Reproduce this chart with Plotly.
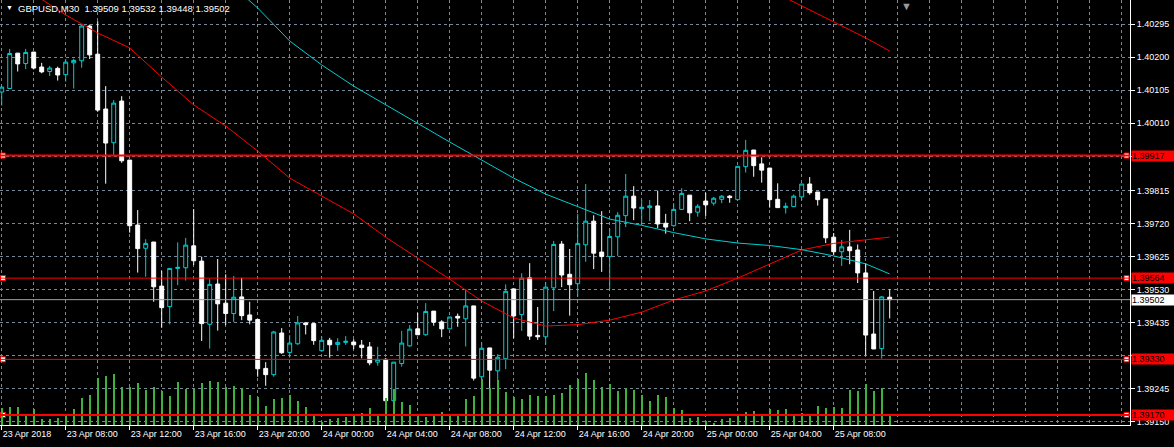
import plotly.graph_objects as go

# ---------------- data (GBPUSD M30) ----------------
time_labels = ["23 Apr 2018", "23 Apr 08:00", "23 Apr 12:00", "23 Apr 16:00", "23 Apr 20:00",
               "24 Apr 00:00", "24 Apr 04:00", "24 Apr 08:00", "24 Apr 12:00", "24 Apr 16:00",
               "24 Apr 20:00", "25 Apr 00:00", "25 Apr 04:00", "25 Apr 08:00"]
label_bars = [0, 8, 16, 24, 32, 40, 48, 56, 64, 72, 80, 88, 96, 104]

open_ = [1.40100, 1.40110, 1.40212, 1.40182, 1.40215, 1.40172, 1.40159, 1.40168, 1.40150, 1.40184,
         1.40190, 1.40290, 1.40209, 1.40051, 1.39954, 1.40074, 1.39904, 1.39717, 1.39650, 1.39668,
         1.39541, 1.39482, 1.39592, 1.39594, 1.39657, 1.39613, 1.39431, 1.39547, 1.39492, 1.39462,
         1.39510, 1.39458, 1.39445, 1.39304, 1.39286, 1.39406, 1.39350, 1.39375, 1.39435, 1.39433,
         1.39355, 1.39385, 1.39373, 1.39379, 1.39380, 1.39371, 1.39366, 1.39322, 1.39330, 1.39211,
         1.39318, 1.39369, 1.39418, 1.39401, 1.39469, 1.39438, 1.39418, 1.39454, 1.39447, 1.39484,
         1.39280, 1.39363, 1.39297, 1.39332, 1.39533, 1.39459, 1.39565, 1.39399, 1.39395, 1.39536,
         1.39662, 1.39575, 1.39548, 1.39660, 1.39728, 1.39639, 1.39626, 1.39683, 1.39744, 1.39800,
         1.39764, 1.39767, 1.39772, 1.39722, 1.39715, 1.39762, 1.39803, 1.39754, 1.39786, 1.39780,
         1.39791, 1.39800, 1.39790, 1.39885, 1.39933, 1.39893, 1.39881, 1.39791, 1.39767, 1.39770,
         1.39798, 1.39835, 1.39812, 1.39792, 1.39682, 1.39640, 1.39654, 1.39645, 1.39579, 1.39403,
         1.39361, 1.39509]
high = [1.40117, 1.40224, 1.40212, 1.40224, 1.40215, 1.40184, 1.40175, 1.40173, 1.40195, 1.40196,
        1.40295, 1.40294, 1.40304, 1.40117, 1.40077, 1.40088, 1.39904, 1.39760, 1.39676, 1.39668,
        1.39585, 1.39593, 1.39667, 1.39680, 1.39763, 1.39626, 1.39561, 1.39619, 1.39575, 1.39570,
        1.39565, 1.39496, 1.39445, 1.39322, 1.39412, 1.39420, 1.39400, 1.39455, 1.39437, 1.39435,
        1.39397, 1.39392, 1.39391, 1.39397, 1.39388, 1.39386, 1.39380, 1.39366, 1.39334, 1.39322,
        1.39412, 1.39429, 1.39464, 1.39492, 1.39469, 1.39443, 1.39452, 1.39462, 1.39532, 1.39484,
        1.39379, 1.39363, 1.39345, 1.39546, 1.39533, 1.39578, 1.39607, 1.39481, 1.39552, 1.39671,
        1.39671, 1.39648, 1.39749, 1.39835, 1.39745, 1.39757, 1.39706, 1.39754, 1.39864, 1.39829,
        1.39789, 1.39789, 1.39816, 1.39749, 1.39780, 1.39823, 1.39803, 1.39777, 1.39810, 1.39798,
        1.39803, 1.39803, 1.39886, 1.39962, 1.39933, 1.39912, 1.39881, 1.39837, 1.39781, 1.39805,
        1.39835, 1.39855, 1.39812, 1.39792, 1.39694, 1.39674, 1.39703, 1.39661, 1.39607, 1.39527,
        1.39512, 1.39532]
low = [1.40061, 1.40109, 1.40159, 1.40166, 1.40165, 1.40154, 1.40146, 1.40133, 1.40130, 1.40110,
       1.40170, 1.40195, 1.40043, 1.39836, 1.39919, 1.39896, 1.39695, 1.39580, 1.39568, 1.39496,
       1.39421, 1.39431, 1.39544, 1.39557, 1.39602, 1.39383, 1.39361, 1.39413, 1.39429, 1.39437,
       1.39443, 1.39431, 1.39280, 1.39254, 1.39280, 1.39346, 1.39335, 1.39372, 1.39402, 1.39372,
       1.39352, 1.39335, 1.39355, 1.39372, 1.39360, 1.39333, 1.39313, 1.39312, 1.39207, 1.39210,
       1.39309, 1.39366, 1.39400, 1.39398, 1.39427, 1.39394, 1.39418, 1.39424, 1.39367, 1.39269,
       1.39251, 1.39244, 1.39256, 1.39302, 1.39391, 1.39412, 1.39386, 1.39386, 1.39372, 1.39469,
       1.39538, 1.39456, 1.39511, 1.39611, 1.39590, 1.39582, 1.39532, 1.39628, 1.39711, 1.39731,
       1.39718, 1.39728, 1.39708, 1.39692, 1.39712, 1.39760, 1.39728, 1.39741, 1.39743, 1.39773,
       1.39780, 1.39781, 1.39790, 1.39868, 1.39856, 1.39839, 1.39767, 1.39767, 1.39750, 1.39770,
       1.39789, 1.39804, 1.39773, 1.39665, 1.39631, 1.39599, 1.39604, 1.39550, 1.39342, 1.39360,
       1.39332, 1.39448]
close = [1.40114, 1.40211, 1.40181, 1.40214, 1.40169, 1.40158, 1.40169, 1.40149, 1.40186, 1.40191,
         1.40290, 1.40207, 1.40048, 1.39953, 1.40068, 1.39902, 1.39715, 1.39649, 1.39664, 1.39539,
         1.39479, 1.39592, 1.39595, 1.39659, 1.39614, 1.39433, 1.39546, 1.39490, 1.39462, 1.39509,
         1.39456, 1.39443, 1.39303, 1.39286, 1.39409, 1.39349, 1.39377, 1.39435, 1.39430, 1.39384,
         1.39385, 1.39372, 1.39379, 1.39382, 1.39372, 1.39364, 1.39320, 1.39330, 1.39211, 1.39322,
         1.39377, 1.39417, 1.39401, 1.39468, 1.39437, 1.39418, 1.39452, 1.39449, 1.39484, 1.39276,
         1.39362, 1.39299, 1.39336, 1.39526, 1.39455, 1.39564, 1.39397, 1.39395, 1.39538, 1.39661,
         1.39573, 1.39545, 1.39664, 1.39728, 1.39636, 1.39626, 1.39684, 1.39745, 1.39800, 1.39766,
         1.39768, 1.39772, 1.39720, 1.39711, 1.39762, 1.39808, 1.39752, 1.39771, 1.39775, 1.39794,
         1.39800, 1.39796, 1.39886, 1.39932, 1.39888, 1.39875, 1.39790, 1.39767, 1.39771, 1.39800,
         1.39835, 1.39810, 1.39790, 1.39680, 1.39640, 1.39654, 1.39643, 1.39579, 1.39400, 1.39360,
         1.39510, 1.39502]
volume = [340, 360, 360, 220, 320, 120, 120, 140, 180, 320,
          540, 600, 940, 980, 1020, 760, 760, 840, 700, 760,
          680, 580, 860, 720, 720, 840, 880, 860, 760, 780,
          740, 600, 560, 380, 520, 540, 600, 480, 360, 220,
          60, 120, 140, 160, 180, 240, 340, 220, 540, 720,
          460, 400, 220, 160, 180, 260, 220, 180, 520, 580,
          920, 740, 900, 660, 560, 520, 600, 580, 580, 600,
          640, 800, 920, 1040, 900, 760, 820, 680, 740, 700,
          600, 480, 600, 560, 340, 300, 140, 160, 80, 30,
          120, 140, 200, 260, 280, 220, 320, 300, 320, 180,
          240, 180, 380, 340, 360, 340, 700, 680, 820, 680,
          740, 220]

# moving averages, read every 4 bars
ma_red_bars = [4, 8, 12, 16, 20, 24, 28, 32, 36, 40, 44, 48, 52, 56, 60, 64, 68, 72, 76, 80,
               84, 88, 92, 96, 100, 104, 108, 111]
ma_red = [1.40382, 1.40322, 1.40270, 1.40227, 1.40143, 1.40063, 1.40002, 1.39930, 1.39852, 1.39800,
          1.39749, 1.39682, 1.39622, 1.39561, 1.39498, 1.39449, 1.39426, 1.39430, 1.39443, 1.39466,
          1.39501, 1.39527, 1.39564, 1.39605, 1.39645, 1.39664, 1.39675, 1.39682]
ma_cyan_bars = [28, 32, 36, 40, 44, 48, 52, 56, 60, 64, 68, 72, 76, 80, 84, 88, 92, 96, 100, 104,
                108, 111]
ma_cyan = [1.40423, 1.40342, 1.40247, 1.40178, 1.40117, 1.40063, 1.40008, 1.39956, 1.39904, 1.39852,
           1.39806, 1.39769, 1.39734, 1.39716, 1.39695, 1.39677, 1.39665, 1.39658, 1.39646, 1.39628,
           1.39605, 1.39576]
ma_slow_bars = [96, 100, 104, 108, 111]
ma_slow = [1.40394, 1.40348, 1.40302, 1.40256, 1.40218]

price_ticks = [1.40295, 1.40200, 1.40105, 1.40010, 1.39915, 1.39815, 1.39720, 1.39625, 1.39530,
               1.39435, 1.39340, 1.39245, 1.39150]
hidden_ticks = [1.39915, 1.39340]   # covered by the red level labels
hlines = [1.39917, 1.39564, 1.39330, 1.39170]
hline_widths = [2, 1, 1, 2]

# ---------------- styling ----------------
BULL = "#00CED1"
BEAR = "#FFFFFF"
VOLC = "#3CB43C"
GRID = "#778899"
RED = "#FF0000"
FONT = "Liberation Sans, Arial, sans-serif"

PX_PER_BAR = 8.0
PLOT_W = 1130
x_lo = -1.7 / PX_PER_BAR
x_hi = x_lo + PLOT_W / PX_PER_BAR
y_lo, y_hi = 1.39141, 1.40365

bars = list(range(len(open_)))

fig = go.Figure()

fig.add_trace(go.Bar(x=bars, y=volume, width=0.1, yaxis="y2",
                     marker=dict(color=VOLC, line=dict(width=0)), hoverinfo="skip"))

fig.add_trace(go.Candlestick(
    x=bars, open=open_, high=high, low=low, close=close,
    increasing=dict(line=dict(color=BULL, width=1), fillcolor="#000000"),
    decreasing=dict(line=dict(color=BEAR, width=1), fillcolor=BEAR),
    whiskerwidth=0, hoverinfo="skip"))

fig.add_trace(go.Scatter(x=ma_red_bars, y=ma_red, mode="lines",
                         line=dict(color=RED, width=1), hoverinfo="skip"))
fig.add_trace(go.Scatter(x=ma_cyan_bars, y=ma_cyan, mode="lines",
                         line=dict(color=BULL, width=1), hoverinfo="skip"))
fig.add_trace(go.Scatter(x=ma_slow_bars, y=ma_slow, mode="lines",
                         line=dict(color=RED, width=1), hoverinfo="skip"))

shapes = []
for lv, w in zip(hlines, hline_widths):
    shapes.append(dict(type="line", xref="paper", x0=0, x1=1, yref="y", y0=lv, y1=lv,
                       line=dict(color=RED, width=w), layer="above"))
bid = close[-1]
shapes.append(dict(type="line", xref="paper", x0=0, x1=1, yref="y", y0=bid, y1=bid,
                   line=dict(color="#A0A0A0", width=1), layer="above"))

# anchor squares of the horizontal line objects (near both plot edges)
sq_x = []
sq_y = []
for lv in hlines:
    sq_x += [x_lo + 3.0 / PX_PER_BAR, x_hi - 3.5 / PX_PER_BAR]
    sq_y += [lv, lv]
fig.add_trace(go.Scatter(x=sq_x, y=sq_y, mode="markers", cliponaxis=False,
                         marker=dict(symbol="square", size=5, color="#FFFFFF",
                                     line=dict(color=RED, width=1)),
                         hoverinfo="skip"))

annotations = []
for lv in hlines:
    annotations.append(dict(text=f"{lv:.5f}", x=1, xref="paper", xanchor="left", xshift=1,
                            y=lv, yref="y", yanchor="middle", showarrow=False,
                            bgcolor=RED, font=dict(family=FONT, size=9, color="#000000"),
                            width=42, height=10, align="left", borderpad=0))
annotations.append(dict(text=f"{bid:.5f}", x=1, xref="paper", xanchor="left", xshift=1,
                        y=bid, yref="y", yanchor="middle", showarrow=False,
                        bgcolor="#FFFFFF", font=dict(family=FONT, size=9, color="#000000"),
                        width=42, height=10, align="left", borderpad=0))
header = f"GBPUSD,M30  {open_[-1]:.5f} {high[-1]:.5f} {low[-1]:.5f} {close[-1]:.5f}"
annotations.append(dict(text=header, x=16 / PLOT_W, xref="paper", xanchor="left",
                        y=1, yref="paper", yanchor="top", yshift=-1, showarrow=False,
                        font=dict(family=FONT, size=9.5, color="#FFFFFF")))
annotations.append(dict(text="▼", x=4 / PLOT_W, xref="paper", xanchor="left",
                        y=1, yref="paper", yanchor="top", yshift=-2, showarrow=False,
                        font=dict(family=FONT, size=7, color="#FFFFFF")))
annotations.append(dict(text="▼", x=899 / PLOT_W, xref="paper", xanchor="left",
                        y=1, yref="paper", yanchor="top", yshift=2, showarrow=False,
                        font=dict(family=FONT, size=11, color="#9A9A9A")))

fig.update_layout(
    width=1174, height=447,
    margin=dict(l=0, r=44, t=0, b=22, pad=0),
    paper_bgcolor="#000000", plot_bgcolor="#000000",
    showlegend=False, bargap=0,
    font=dict(family=FONT, size=9, color="#FFFFFF"),
    shapes=shapes, annotations=annotations,
    xaxis=dict(range=[x_lo, x_hi], rangeslider=dict(visible=False),
               tickmode="array", tickvals=label_bars, ticktext=time_labels,
               ticklabelposition="outside right",
               ticks="outside", ticklen=4, tickcolor="#FFFFFF", tickwidth=1,
               showline=True, linecolor="#FFFFFF", linewidth=1,
               showgrid=True, gridcolor=GRID, griddash="3px,3px", gridwidth=1,
               minor=dict(tickmode="linear", tick0=0, dtick=4, showgrid=True,
                          gridcolor=GRID, griddash="3px,3px", gridwidth=1, ticklen=0),
               zeroline=False, fixedrange=True,
               tickfont=dict(family=FONT, size=9, color="#FFFFFF")),
    yaxis=dict(range=[y_lo, y_hi], side="right",
               tickmode="array", tickvals=price_ticks,
               ticktext=["" if p in hidden_ticks else f"{p:.5f}" for p in price_ticks],
               ticks="outside", ticklen=4, tickcolor="#FFFFFF", tickwidth=1,
               showline=True, linecolor="#FFFFFF", linewidth=1,
               showgrid=True, gridcolor=GRID, griddash="3px,3px", gridwidth=1,
               zeroline=False, fixedrange=True,
               tickfont=dict(family=FONT, size=9, color="#FFFFFF")),
    yaxis2=dict(range=[0, 8500], overlaying="y", visible=False, fixedrange=True),
)

# the page's default 8px body margin would shift the figure; remove it
fig.write_html("out.html", config={"displayModeBar": False},
               post_script="document.body.style.margin='0';document.body.style.background='#000';")
